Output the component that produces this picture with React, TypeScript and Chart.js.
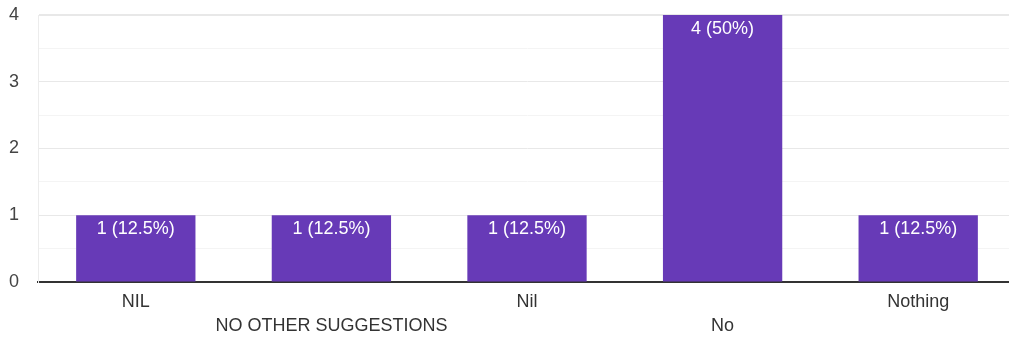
import React, { useEffect, useRef } from "react";
import { Chart, registerables } from "chart.js";

Chart.register(...registerables);

const categories = ["NIL", "NO OTHER SUGGESTIONS", "Nil", "No", "Nothing"];
const counts = [1, 1, 1, 4, 1];
const percentLabels = ["12.5%", "12.5%", "12.5%", "50%", "12.5%"];
const yTickValues = [0, 1, 2, 3, 4];

const FONT = "'Liberation Sans', Arial, sans-serif";

const barLabelPlugin = {
  id: "barLabels",
  afterDatasetsDraw(chart: any) {
    const ctx = chart.ctx;
    const meta = chart.getDatasetMeta(0);
    ctx.save();
    ctx.fillStyle = "#ffffff";
    ctx.font = `18px ${FONT}`;
    ctx.textAlign = "center";
    ctx.textBaseline = "middle";
    meta.data.forEach((bar: any, i: number) => {
      ctx.fillText(`${counts[i]} (${percentLabels[i]})`, bar.x, bar.y + 14);
    });
    ctx.restore();
  },
};

export default function App() {
  const ref = useRef<HTMLCanvasElement | null>(null);
  useEffect(() => {
    if (!ref.current) return;
    const chart = new Chart(ref.current, {
      type: "bar",
      data: {
        labels: categories,
        datasets: [
          {
            data: counts,
            backgroundColor: "#673AB7",
            borderWidth: 0,
            barPercentage: 0.61,
            categoryPercentage: 1,
          },
        ],
      },
      options: {
        animation: false,
        responsive: true,
        maintainAspectRatio: false,
        layout: { padding: { left: 9, top: 15, right: 0, bottom: 0 } },
        plugins: { legend: { display: false }, tooltip: { enabled: false } },
        scales: {
          x: {
            grid: { display: false, drawTicks: false },
            border: { display: true, color: "#333333", width: 2 },
            afterFit: (axis: any) => {
              axis.height = 55;
            },
            ticks: {
              color: "#333333",
              font: { family: FONT, size: 18, lineHeight: 1.333 },
              padding: 8,
              autoSkip: false,
              maxRotation: 0,
              callback: (_v: any, i: number) =>
                i % 2 === 1 ? ["", categories[i]] : [categories[i]],
            },
          },
          y: {
            min: 0,
            max: 4,
            grid: {
              drawTicks: false,
              color: (c: any) =>
                Number.isInteger(c.tick?.value) ? "#e8e8e8" : "#f4f4f4",
              lineWidth: (c: any) => (c.tick?.value === 4 ? 2 : 1),
            },
            border: { display: true, color: "#ececec", width: 1 },
            afterBuildTicks: (axis: any) => {
              const t: any[] = [];
              for (let v = 0; v <= 4; v += 0.5) t.push({ value: v });
              axis.ticks = t;
            },
            afterFit: (axis: any) => {
              axis.width = 29;
            },
            ticks: {
              color: "#444444",
              font: { family: FONT, size: 18 },
              padding: 0,
              crossAlign: "far",
              callback: (v: any) =>
                yTickValues.includes(Number(v)) ? String(v) : "",
            },
          },
        },
      },
      plugins: [barLabelPlugin],
    });
    return () => chart.destroy();
  }, []);
  return (
    <div
      style={{
        position: "fixed",
        left: 0,
        top: 0,
        width: 1016,
        height: 337,
        background: "#fff",
      }}
    >
      <canvas ref={ref} />
    </div>
  );
}
